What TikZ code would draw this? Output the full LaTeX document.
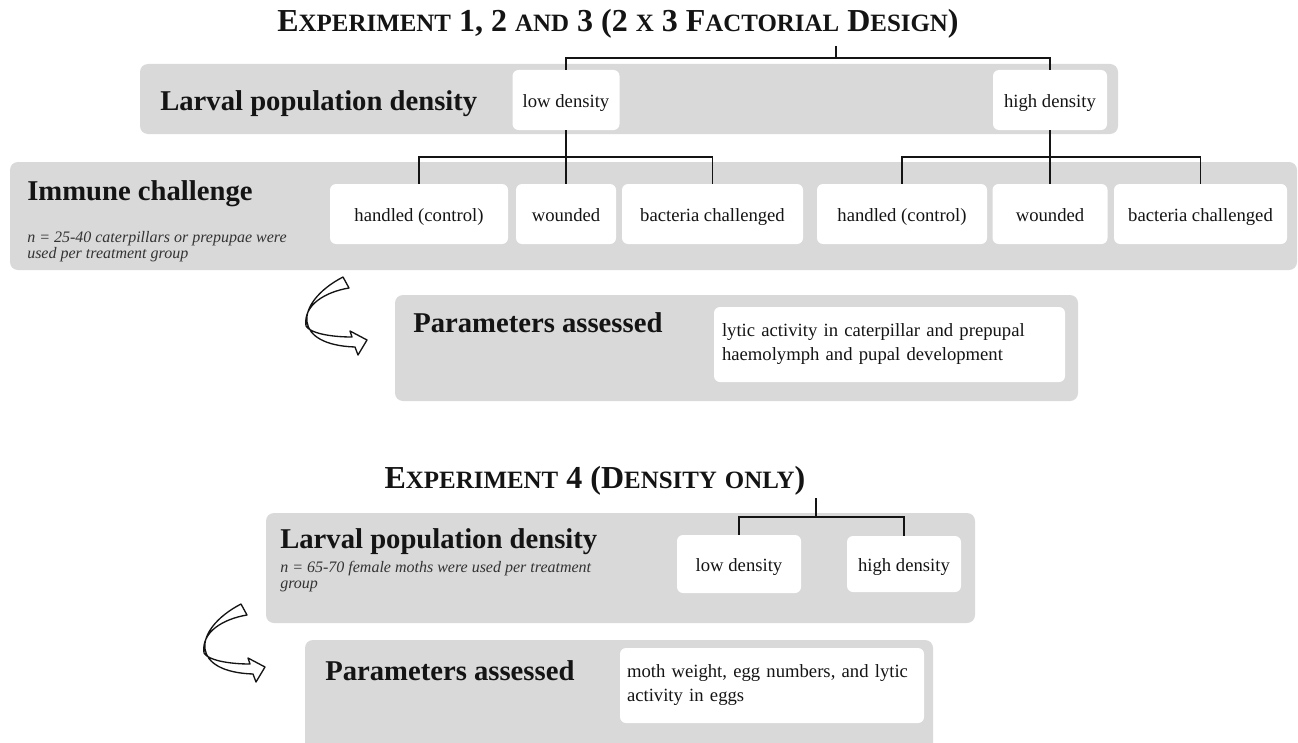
\documentclass[tikz,border=0pt]{standalone}
\usepackage{fontspec}
\setmainfont{Liberation Serif}
\definecolor{panelgray}{RGB}{217,217,217}
\definecolor{inkblack}{RGB}{20,20,20}
\newcommand{\bigsc}{\fontsize{24}{28}\selectfont}
\newcommand{\smsc}{\fontsize{18.7}{22}\selectfont}
\tikzset{
  panel/.style={fill=panelgray, rounded corners=6pt},
  wbox/.style={fill=white, rounded corners=4.5pt, inner sep=0pt, align=center,
     font=\fontsize{14}{18}\selectfont, text=inkblack},
  sbox/.style={wbox, text height=12.5pt, text depth=2pt},
  heading/.style={font=\fontsize{21.5}{25}\selectfont\bfseries, inner sep=0pt, anchor=base west, text=inkblack},
  note/.style={font=\fontsize{12}{13}\selectfont\itshape, inner sep=0pt, anchor=base west, text=black!80},
  titletext/.style={font=\bigsc\bfseries, inner sep=0pt, anchor=base, text=inkblack},
  conn/.style={draw=inkblack, line width=0.9pt},
  curvedarrow/.pic={
    \draw[fill=white, draw=inkblack, line width=1pt, line join=round]
      (343,277) .. controls (318,290) and (305,308) .. (307,322)
      .. controls (309,336) and (325,346) .. (355,347)
      -- (358,355) -- (367,340) -- (350,331) -- (352,337)
      .. controls (330,337) and (310,333) .. (306,326)
      .. controls (303,305) and (325,292) .. (349,288) -- cycle;
  }
}
\begin{document}
\begin{tikzpicture}[x=0.75pt, y=-0.75pt]
\clip (0,0) rectangle (1298,742);
\fill[white] (0,0) rectangle (1298,742);

% ---------- Experiment 1, 2 and 3 ----------
\node[titletext] (t1) at (618,32) {E{\smsc XPERIMENT} 1, 2 {\smsc AND} 3 (2 {\smsc X} 3 F{\smsc ACTORIAL} D{\smsc ESIGN})};

\fill[panel] (140,64) rectangle (1118,134);
\fill[panel] (10,162) rectangle (1297,270);
\fill[panel] (395,295) rectangle (1078,401);

\node[heading] (h1) at (160,110) {Larval population density};
\node[sbox, minimum width=107*0.75pt, minimum height=60*0.75pt] (ld1) at (566,100) {low density};
\node[sbox, minimum width=114*0.75pt, minimum height=60*0.75pt] (hd1) at (1050,100) {high density};

\node[heading] (h2) at (27,200) {Immune challenge};
\node[note] (n1a) at (27,242) {n = 25-40 caterpillars or prepupae were};
\node[note] (n1b) at (27,258) {used per treatment group};

\node[sbox, minimum width=178*0.75pt, minimum height=60*0.75pt] (b1) at (419,214) {handled (control)};
\node[sbox, minimum width=100*0.75pt, minimum height=60*0.75pt] (b2) at (566,214) {wounded};
\node[sbox, minimum width=181*0.75pt, minimum height=60*0.75pt] (b3) at (712.5,214) {bacteria challenged};
\node[sbox, minimum width=170*0.75pt, minimum height=60*0.75pt] (b4) at (902,214) {handled (control)};
\node[sbox, minimum width=115*0.75pt, minimum height=60*0.75pt] (b5) at (1050,214) {wounded};
\node[sbox, minimum width=173*0.75pt, minimum height=60*0.75pt] (b6) at (1200.5,214) {bacteria challenged};

\node[heading] (h3) at (413,332) {Parameters assessed};
\node[wbox, minimum width=351*0.75pt, minimum height=75*0.75pt, text width=335*0.75pt, align=left] (p1) at (889.5,344.5)
  {lytic activity in caterpillar and prepupal\\haemolymph and pupal development};

\coordinate (top1) at (836,46);
\coordinate (j1) at (836,58);
\draw[conn] (top1) -- (j1);
\draw[conn] (ld1.north) |- (j1) -| (hd1.north);
\coordinate (j2) at (566,157);
\draw[conn] (ld1.south) -- (b2.north);
\draw[conn] (b1.north) |- (j2) -| (b3.north);
\coordinate (j3) at (1050,157);
\draw[conn] (hd1.south) -- (b5.north);
\draw[conn] (b4.north) |- (j3) -| (b6.north);

\pic (arrA) at (0,0) {curvedarrow};

% ---------- Experiment 4 ----------
\node[titletext] (t2) at (595,488) {E{\smsc XPERIMENT} 4 (D{\smsc ENSITY} {\smsc ONLY})};

\fill[panel] (266,513) rectangle (975,623);
\fill[panel] (305,640) rectangle (933,770);

\node[heading] (h4) at (280,548) {Larval population density};
\node[note] (n2a) at (280,572) {n = 65-70 female moths were used per treatment};
\node[note] (n2b) at (280,588) {group};

\node[sbox, minimum width=124*0.75pt, minimum height=58*0.75pt] (ld2) at (739,564) {low density};
\node[sbox, minimum width=114*0.75pt, minimum height=56*0.75pt] (hd2) at (904,564) {high density};

\coordinate (top2) at (816,498);
\coordinate (j4) at (816,517);
\draw[conn] (top2) -- (j4);
\draw[conn] (ld2.north) |- (j4) -| (hd2.north);

\node[heading] (h5) at (325,680) {Parameters assessed};
\node[wbox, minimum width=304*0.75pt, minimum height=75*0.75pt, text width=290*0.75pt, align=left] (p2) at (772,685.5)
  {moth weight, egg numbers, and lytic\\activity in eggs};

\pic (arrB) at (-102,327) {curvedarrow};
\end{tikzpicture}
\end{document}
